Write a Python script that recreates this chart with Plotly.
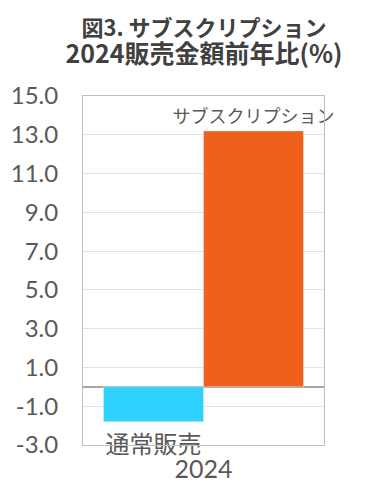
import plotly.graph_objects as go

years = ["2024"]
series_names = ["通常販売", "サブスクリプション"]
normal_sales = [-1.8]
subscription = [13.2]
tick_values = [15, 13, 11, 9, 7, 5, 3, 1, -1, -3]
tick_labels = ["15.0", "13.0", "11.0", "9.0", "7.0", "5.0", "3.0", "1.0", "-1.0", "-3.0"]
colors = ["#2FD2FF", "#EF601C"]

fig = go.Figure()
fig.add_trace(go.Bar(x=years, y=normal_sales, name=series_names[0],
                     marker_color=colors[0], text=[series_names[0]],
                     textposition="outside", cliponaxis=False, constraintext="none",
                     textfont=dict(family="Noto Sans CJK JP", size=24, color="#595959")))
fig.add_trace(go.Bar(x=years, y=subscription, name=series_names[1],
                     marker_color=colors[1], text=[series_names[1]],
                     textposition="outside", cliponaxis=False, constraintext="none",
                     textfont=dict(family="Noto Sans CJK JP", size=18, color="#595959")))

title_text = ("<b><span style='font-size:22px'>図3. サブスクリプション</span><br>"
              "<span style='font-size:25px'>2024販売金額前年比(%)</span></b>")
fig.update_layout(
    width=363, height=492,
    margin=dict(l=75, r=47, t=88, b=55),
    paper_bgcolor="white", plot_bgcolor="white",
    barmode="group", bargap=0.17, bargroupgap=0,
    showlegend=False,
    title=dict(text=title_text, x=0.54, xanchor="center", yref="container",
               y=0.944, yanchor="bottom",
               font=dict(family="Noto Sans CJK JP", size=21, color="#404040")),
    font=dict(family="Lato", color="#595959"),
)
fig.update_yaxes(range=[-3, 15], tickmode="array", tickvals=tick_values, ticktext=tick_labels,
                 tickfont=dict(family="Lato", size=24, color="#595959"),
                 showgrid=True, gridcolor="#e3e3e3", gridwidth=1,
                 zeroline=True, zerolinecolor="#a6a6a6", zerolinewidth=1.5,
                 showline=True, linecolor="#bfbfbf", mirror=True,
                 ticks="", ticklabelstandoff=19, automargin=False)
fig.update_xaxes(tickfont=dict(family="Lato", size=25, color="#595959"),
                 showline=True, linecolor="#bfbfbf", mirror=True,
                 ticks="", ticklabelstandoff=2, automargin=False)

fig.write_html("out.html")
